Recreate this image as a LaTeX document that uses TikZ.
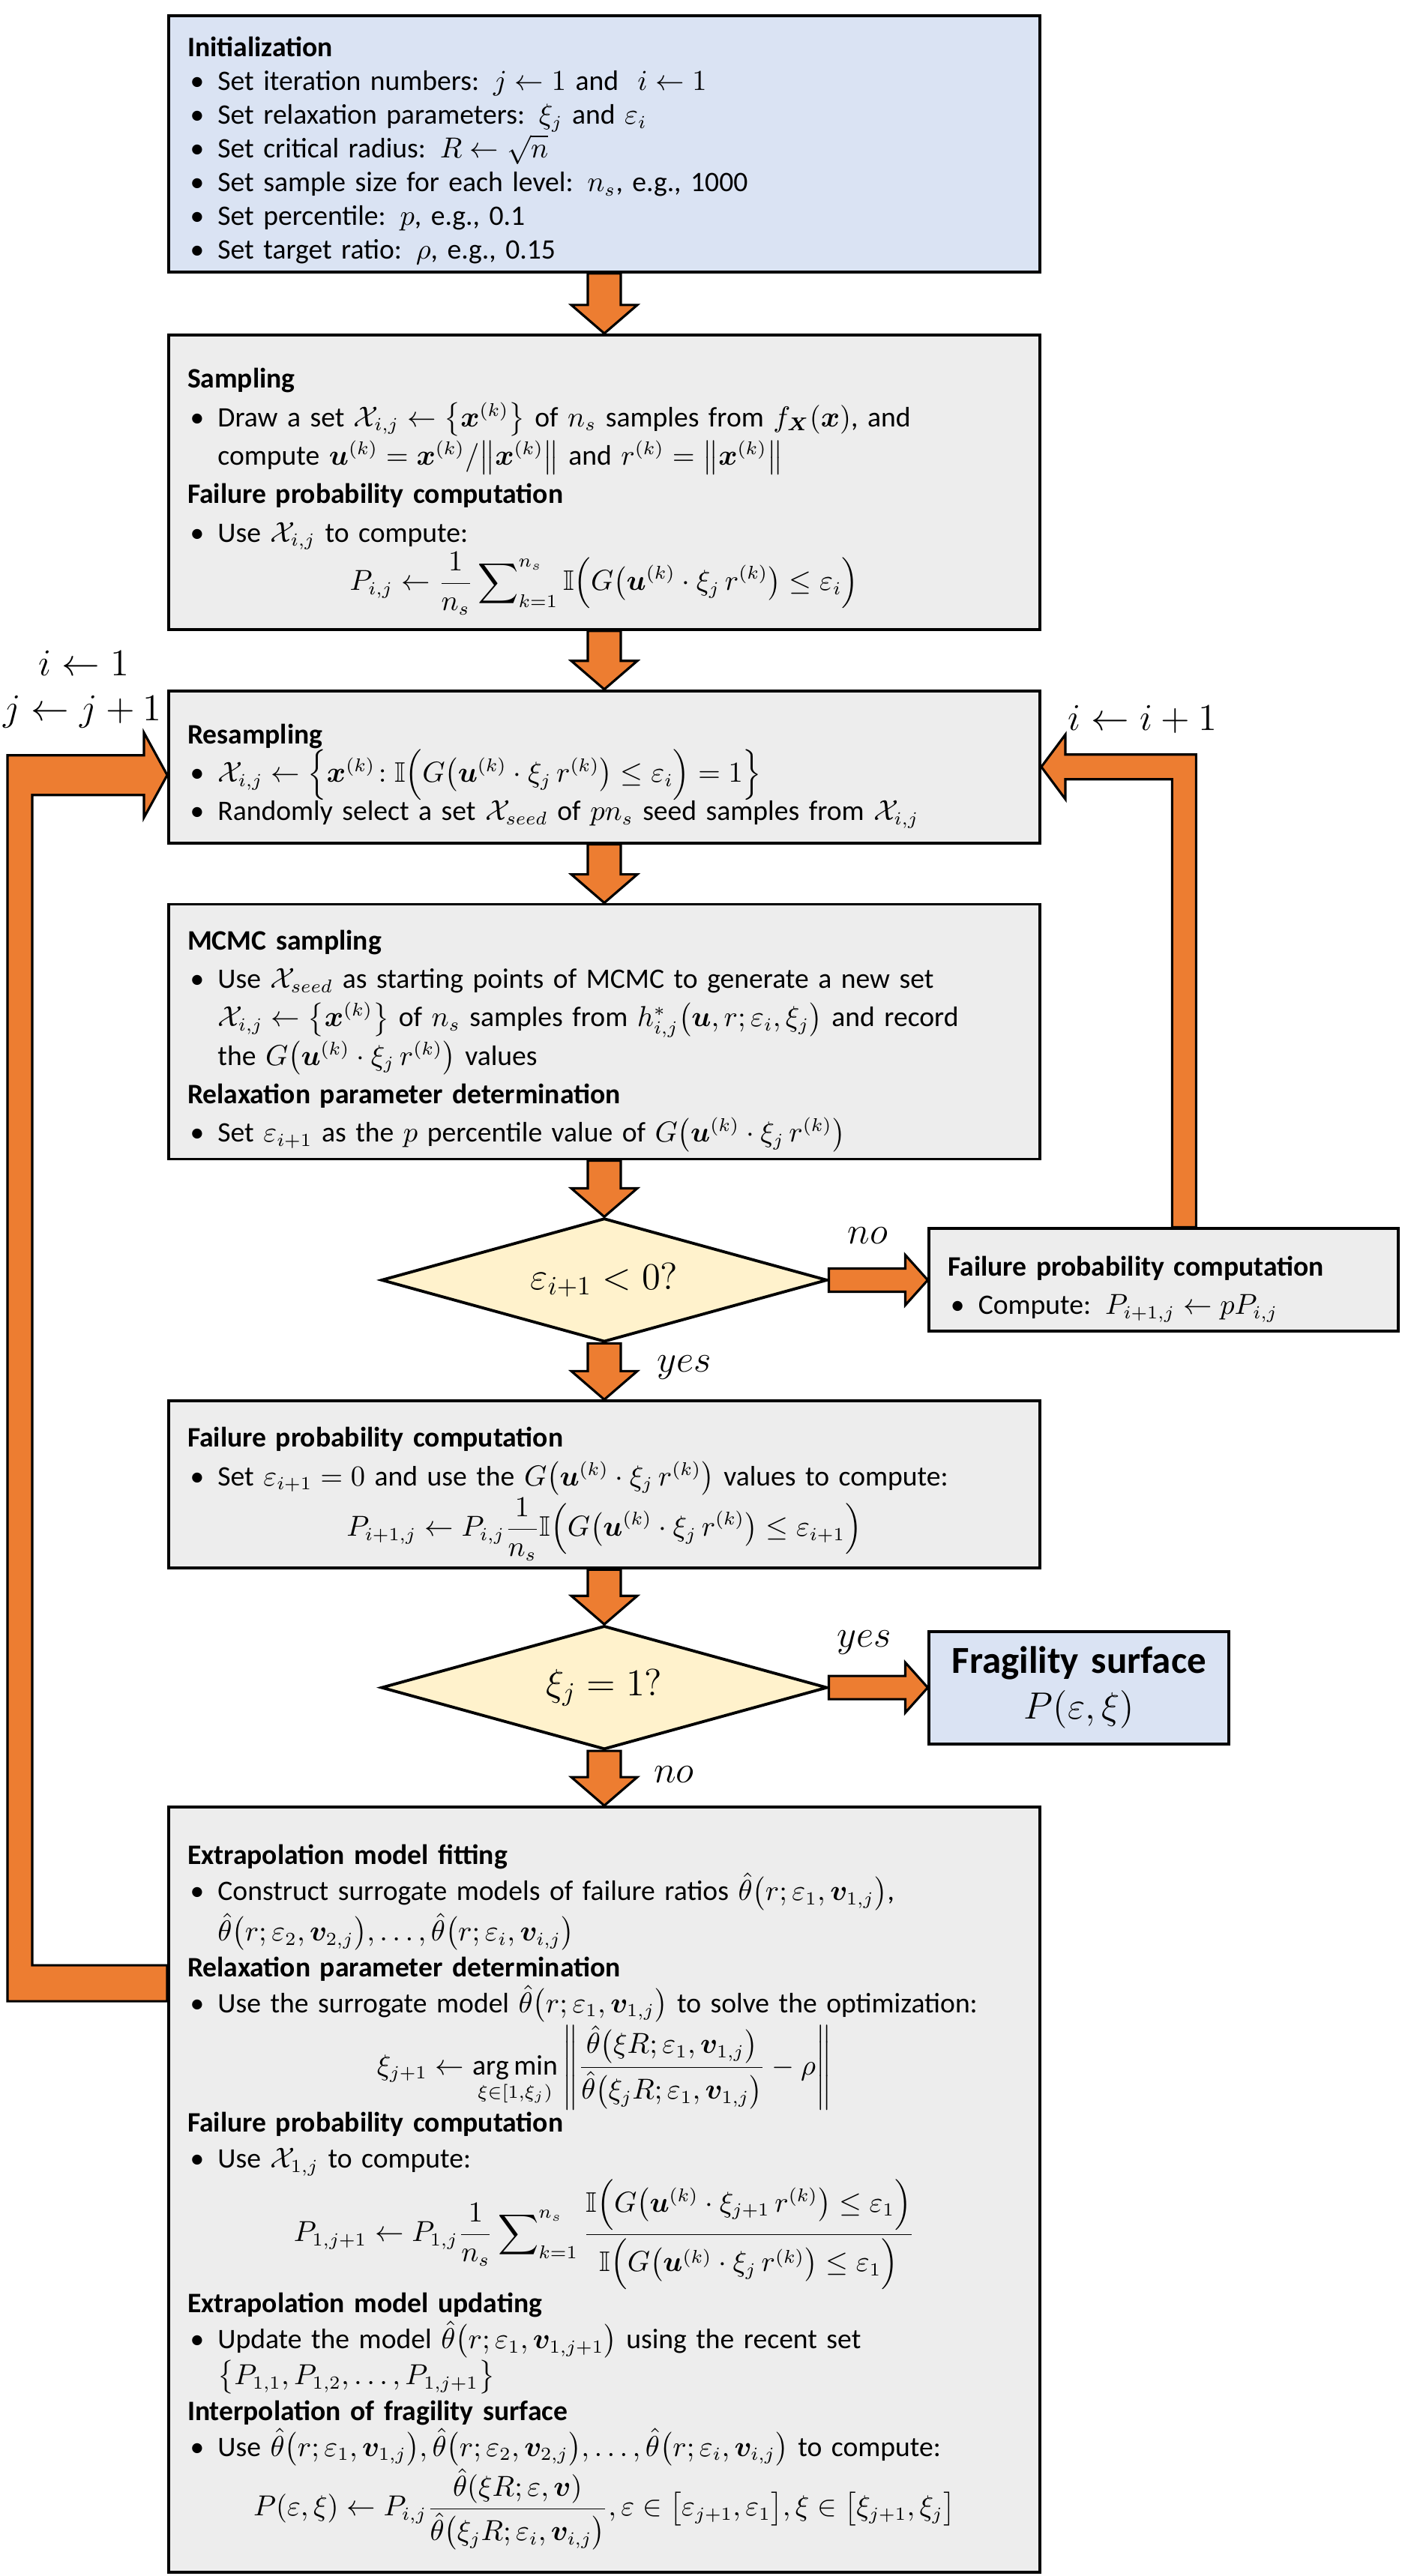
\documentclass[tikz,border=0pt]{standalone}
\usepackage{amsmath}
\usepackage{amssymb}
\usepackage{bm}
\usepackage{fontspec}
\setmainfont{Carlito}
\usepackage{xcolor}
\usetikzlibrary{arrows.meta,positioning,shapes.geometric,calc}

\definecolor{initblue}{HTML}{DAE3F3}
\definecolor{boxgray}{HTML}{EDEDED}
\definecolor{decyellow}{HTML}{FFF2CC}
\definecolor{floworange}{HTML}{ED7D31}

\newcommand{\bodyfont}{\fontsize{10.7}{12.8}\selectfont}
\newcommand{\tallfont}{\fontsize{10.7}{14.6}\selectfont}
\newcommand{\bigfont}{\fontsize{14.5}{17.4}\selectfont}
\newcommand{\bhead}[1]{\par\noindent\textbf{#1}}
\newcommand{\bitem}{\par\hangindent=11.5pt\hangafter=1\noindent\hspace*{1pt}\makebox[10.5pt][l]{\textbullet}}
\newcommand{\eqline}[1]{\par\noindent\makebox[\hsize]{$\displaystyle #1$}\par}
\newcommand{\Gk}[1]{G\bigl(\bm{u}^{(k)}\cdot\xi_{#1}\,r^{(k)}\bigr)}

% block arrows
\newcommand{\flowdown}[2]{%
	\path[blockarrow] let \p1=(#1), \p2=(#2) in
		(\x2-0.22cm,\y1) -- (\x2+0.22cm,\y1) -- (\x2+0.22cm,\y2+0.38cm)
		-- (\x2+0.44cm,\y2+0.38cm) -- (\x2,\y2) -- (\x2-0.44cm,\y2+0.38cm)
		-- (\x2-0.22cm,\y2+0.38cm) -- cycle;}
\newcommand{\flowright}[2]{%
	\path[blockarrow] let \p1=(#1), \p2=(#2) in
		(\x1,\y2+0.155cm) -- (\x2-0.30cm,\y2+0.155cm) -- (\x2-0.30cm,\y2+0.335cm)
		-- (\x2,\y2) -- (\x2-0.30cm,\y2-0.335cm) -- (\x2-0.30cm,\y2-0.155cm)
		-- (\x1,\y2-0.155cm) -- cycle;}
\newcommand{\loopleft}[2]{%
	\path[blockarrow] let \p1=(#1), \p2=(#2) in
		(\x2,\y2+0.24cm) -- (\x1-1.80cm,\y2+0.24cm) -- (\x1-1.80cm,\y1-0.265cm)
		-- (\x1-0.31cm,\y1-0.265cm) -- (\x1-0.31cm,\y1-0.565cm) -- (\x1,\y1)
		-- (\x1-0.31cm,\y1+0.565cm) -- (\x1-0.31cm,\y1+0.265cm)
		-- (\x1-2.13cm,\y1+0.265cm) -- (\x1-2.13cm,\y2-0.24cm)
		-- (\x2,\y2-0.24cm) -- cycle;}
\newcommand{\loopright}[2]{%
	\path[blockarrow] let \p1=(#1), \p2=(#2) in
		(\x2-0.16cm,\y2) -- (\x2-0.16cm,\y1-0.165cm) -- (\x1+0.32cm,\y1-0.165cm)
		-- (\x1+0.32cm,\y1-0.43cm) -- (\x1,\y1) -- (\x1+0.32cm,\y1+0.43cm)
		-- (\x1+0.32cm,\y1+0.165cm) -- (\x2+0.16cm,\y1+0.165cm)
		-- (\x2+0.16cm,\y2) -- cycle;}

\tikzset{
	>=Latex,
	stepbox/.style={
		rectangle,
		draw=black,
		line width=1.1pt,
		fill=boxgray,
		minimum width=11.62cm,
		text width=11.12cm,
		inner xsep=0.25cm,
		inner ysep=0.02cm,
		align=left,
		font=\tallfont
	},
	decision/.style={
		diamond,
		aspect=3.6,
		draw=black,
		line width=1.1pt,
		fill=decyellow,
		minimum width=5.95cm,
		minimum height=1.65cm,
		inner sep=0pt,
		font=\bigfont
	},
	blockarrow/.style={
		draw=black,
		line width=0.9pt,
		fill=floworange,
		line join=miter
	},
	lbl/.style={font=\bigfont}
}

\begin{document}
\begin{tikzpicture}[
	node distance=0.78cm
	]
	
	\useasboundingbox (0,0) rectangle (18.69,-34.37);
	
	%--------------------
	% Main column
	%--------------------
	\node[stepbox, fill=initblue, font=\bodyfont, minimum height=3.42cm, anchor=north] (init) at (8.06,-0.19) {
		\bhead{Initialization}
		\bitem Set iteration numbers: $j\leftarrow 1$ and\ \ $i\leftarrow 1$
		\bitem Set relaxation parameters: $\xi_j$ and $\varepsilon_i$
		\bitem Set critical radius: $R\leftarrow\sqrt{n}$
		\bitem Set sample size for each level: $n_s$, e.g., 1000
		\bitem Set percentile: $p$, e.g., 0.1
		\bitem Set target ratio: $\rho$, e.g., 0.15
	};
	
	\node[stepbox, minimum height=3.93cm, below=0.80cm of init] (samp) {
		\bhead{Sampling}
		\bitem Draw a set $\mathcal{X}_{i,j}\leftarrow\bigl\{\bm{x}^{(k)}\bigr\}$ of $n_s$ samples from $f_{\bm{X}}(\bm{x})$, and\newline
		compute $\bm{u}^{(k)}=\bm{x}^{(k)}/\bigl\|\bm{x}^{(k)}\bigr\|$ and $r^{(k)}=\bigl\|\bm{x}^{(k)}\bigr\|$
		\bhead{Failure probability computation}
		\bitem Use $\mathcal{X}_{i,j}$ to compute:
		\eqline{P_{i,j}\leftarrow\frac{1}{n_s}\sum\nolimits_{k=1}^{n_s}\mathbb{I}\Bigl(\Gk{j}\le\varepsilon_i\Bigr)}
	};
	
	\node[stepbox, minimum height=2.03cm, below=0.78cm of samp] (resamp) {
		\bhead{Resampling}
		\bitem $\mathcal{X}_{i,j}\leftarrow\Bigl\{\bm{x}^{(k)}\!:\mathbb{I}\Bigl(\Gk{j}\le\varepsilon_i\Bigr)=1\Bigr\}$
		\bitem Randomly select a set $\mathcal{X}_{seed}$ of $pn_s$ seed samples from $\mathcal{X}_{i,j}$
	};
	
	\node[stepbox, minimum height=3.40cm, below=0.78cm of resamp] (mcmc) {
		\bhead{MCMC sampling}
		\bitem Use $\mathcal{X}_{seed}$ as starting points of MCMC to generate a new set\newline
		$\mathcal{X}_{i,j}\leftarrow\bigl\{\bm{x}^{(k)}\bigr\}$ of $n_s$ samples from $h^{*}_{i,j}\bigl(\bm{u},r;\varepsilon_i,\xi_j\bigr)$ and record\newline
		the $\Gk{j}$ values
		\bhead{Relaxation parameter determination}
		\bitem Set $\varepsilon_{i+1}$ as the $p$ percentile value of $\Gk{j}$
	};
	
	\node[decision, below=0.75cm of mcmc] (d1) {$\varepsilon_{i+1}<0?$};
	
	\node[stepbox, text width=5.76cm, minimum width=6.26cm, minimum height=1.37cm, right=1.32cm of d1] (fright) {
		\bhead{Failure probability computation}
		\bitem Compute: $P_{i+1,j}\leftarrow pP_{i,j}$
	};
	
	\node[stepbox, minimum height=2.23cm, below=0.75cm of d1] (fail) {
		\bhead{Failure probability computation}
		\bitem Set $\varepsilon_{i+1}=0$ and use the $\Gk{j}$ values to compute:
		\eqline{P_{i+1,j}\leftarrow P_{i,j}\frac{1}{n_s}\mathbb{I}\Bigl(\Gk{j}\le\varepsilon_{i+1}\Bigr)}
	};
	
	\node[decision, below=0.73cm of fail] (d2) {$\xi_j=1?$};
	
	\node[stepbox, fill=initblue, text width=3.5cm, minimum width=4.0cm, minimum height=1.50cm, align=center, font=\bigfont, right=1.32cm of d2] (frag) {
		\textbf{Fragility surface}\\ $P(\varepsilon,\xi)$
	};
	
	\node[stepbox, font=\fontsize{10.7}{13.6}\selectfont, minimum height=10.21cm, below=0.73cm of d2] (big) {
		\bhead{Extrapolation model fitting}
		\bitem Construct surrogate models of failure ratios $\hat{\theta}\bigl(r;\varepsilon_1,\bm{v}_{1,j}\bigr)$,\newline
		$\hat{\theta}\bigl(r;\varepsilon_2,\bm{v}_{2,j}\bigr),\dots,\hat{\theta}\bigl(r;\varepsilon_i,\bm{v}_{i,j}\bigr)$
		\bhead{Relaxation parameter determination}
		\bitem Use the surrogate model $\hat{\theta}\bigl(r;\varepsilon_1,\bm{v}_{1,j}\bigr)$ to solve the optimization:
		\eqline{\xi_{j+1}\leftarrow\operatorname*{arg\,min}_{\xi\in[1,\xi_j)}\left\|\frac{\hat{\theta}\bigl(\xi R;\varepsilon_1,\bm{v}_{1,j}\bigr)}{\hat{\theta}\bigl(\xi_j R;\varepsilon_1,\bm{v}_{1,j}\bigr)}-\rho\right\|}
		\bhead{Failure probability computation}
		\bitem Use $\mathcal{X}_{1,j}$ to compute:
		\eqline{P_{1,j+1}\leftarrow P_{1,j}\frac{1}{n_s}\sum\nolimits_{k=1}^{n_s}\frac{\mathbb{I}\Bigl(\Gk{j+1}\le\varepsilon_1\Bigr)}{\mathbb{I}\Bigl(\Gk{j}\le\varepsilon_1\Bigr)}}
		\bhead{Extrapolation model updating}
		\bitem Update the model $\hat{\theta}\bigl(r;\varepsilon_1,\bm{v}_{1,j+1}\bigr)$ using the recent set\newline
		$\bigl\{P_{1,1},P_{1,2},\dots,P_{1,j+1}\bigr\}$
		\bhead{Interpolation of fragility surface}
		\bitem Use $\hat{\theta}\bigl(r;\varepsilon_1,\bm{v}_{1,j}\bigr),\hat{\theta}\bigl(r;\varepsilon_2,\bm{v}_{2,j}\bigr),\dots,\hat{\theta}\bigl(r;\varepsilon_i,\bm{v}_{i,j}\bigr)$ to compute:
		\eqline{P(\varepsilon,\xi)\leftarrow P_{i,j}\frac{\hat{\theta}(\xi R;\varepsilon,\bm{v})}{\hat{\theta}\bigl(\xi_j R;\varepsilon_i,\bm{v}_{i,j}\bigr)},\varepsilon\in\bigl[\varepsilon_{j+1},\varepsilon_1\bigr],\xi\in\bigl[\xi_{j+1},\xi_j\bigr]}
	};
	
	%--------------------
	% Arrows
	%--------------------
	\flowdown{init.south}{samp.north}
	\flowdown{samp.south}{resamp.north}
	\flowdown{resamp.south}{mcmc.north}
	\flowdown{mcmc.south}{d1.north}
	\flowdown{d1.south}{fail.north}
	\flowdown{fail.south}{d2.north}
	\flowdown{d2.south}{big.north}
	\flowright{d1.east}{fright.west}
	\flowright{d2.east}{frag.west}
	
	%--------------------
	% Loops back to resampling
	%--------------------
	\coordinate (jin) at ($(resamp.west)+(0,-0.11)$);
	\coordinate (jout) at ($(big.north west)+(0,-2.37)$);
	\coordinate (iout) at ($(fright.north)+(0.27,0)$);
	\loopleft{jin}{jout}
	\loopright{resamp.east}{iout}
	
	%--------------------
	% Labels
	%--------------------
	\node[lbl] (no1) at ($(d1.east)!0.5!(fright.west)+(-0.14,0.59)$) {$no$};
	\node[lbl] (yes1) at ($(d1.south)!0.5!(fail.north)+(1.07,0.05)$) {$yes$};
	\node[lbl] (yes2) at ($(d2.east)!0.5!(frag.west)+(-0.19,0.60)$) {$yes$};
	\node[lbl] (no2) at ($(d2.south)!0.5!(big.north)+(0.93,0.05)$) {$no$};
	\node[lbl] (ione) at ($(resamp.north west)+(-1.11,0.35)$) {$i\leftarrow 1$};
	\node[lbl] (jnext) at ($(resamp.north west)+(-1.13,-0.30)$) {$j\leftarrow j+1$};
	\node[lbl] (inext) at ($(resamp.north east)+(1.35,-0.40)$) {$i\leftarrow i+1$};
	
\end{tikzpicture}
\end{document}
